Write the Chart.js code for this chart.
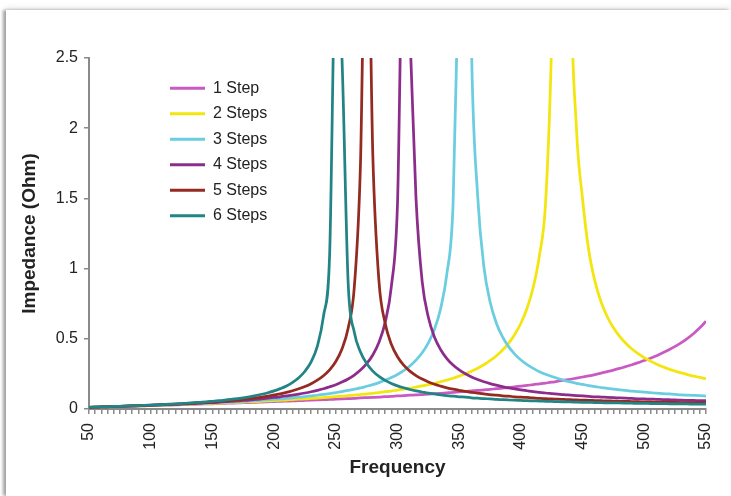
<!DOCTYPE html>
<html><head><meta charset="utf-8">
<script src="https://cdn.jsdelivr.net/npm/chart.js@4/dist/chart.umd.min.js"></script>
<style>
html,body{margin:0;padding:0;background:#fff;width:731px;height:496px;overflow:hidden}
#frame{position:absolute;left:6px;top:10px;width:725px;height:486px;background:#fff;
  box-shadow:-3px 0 3px rgba(0,0,0,0.35), 0 -3px 6px rgba(0,0,0,0.07);}
#c{position:absolute;left:0;top:0}
</style></head><body>
<div id="frame"></div>
<canvas id="c" width="731" height="496"></canvas>
<script>
const frequency = [
  50,55,60,65,70,75,80,85,90,95,
  100,105,110,115,120,125,130,135,140,145,
  150,155,160,165,170,175,180,185,190,195,
  200,205,210,215,220,225,230,235,240,245,
  250,255,260,265,270,275,280,285,290,295,
  300,305,310,315,320,325,330,335,340,345,
  350,355,360,365,370,375,380,385,390,395,
  400,405,410,415,420,425,430,435,440,445,
  450,455,460,465,470,475,480,485,490,495,
  500,505,510,515,520,525,530,535,540,545,
  550];

const step1 = [
  0.012,0.013,0.014,0.015,0.017,0.018,0.019,0.020,0.022,0.023,
  0.024,0.025,0.027,0.028,0.029,0.031,0.032,0.033,0.035,0.036,
  0.037,0.039,0.040,0.042,0.043,0.045,0.046,0.048,0.049,0.051,
  0.053,0.054,0.056,0.058,0.059,0.061,0.063,0.065,0.067,0.068,
  0.070,0.072,0.074,0.076,0.079,0.081,0.083,0.085,0.088,0.090,
  0.093,0.095,0.098,0.100,0.103,0.106,0.109,0.112,0.115,0.118,
  0.122,0.125,0.129,0.132,0.136,0.140,0.145,0.149,0.153,0.158,
  0.163,0.168,0.174,0.179,0.185,0.191,0.198,0.205,0.212,0.220,
  0.228,0.236,0.245,0.255,0.266,0.277,0.289,0.302,0.315,0.330,
  0.345,0.362,0.380,0.400,0.422,0.446,0.473,0.503,0.538,0.578,
  0.625];

const steps2 = [
  0.012,0.013,0.014,0.016,0.017,0.018,0.019,0.021,0.022,0.023,
  0.025,0.026,0.028,0.029,0.031,0.032,0.034,0.035,0.037,0.038,
  0.040,0.042,0.044,0.045,0.047,0.049,0.051,0.053,0.055,0.057,
  0.060,0.062,0.064,0.067,0.070,0.072,0.075,0.078,0.081,0.084,
  0.088,0.091,0.095,0.099,0.103,0.108,0.112,0.117,0.123,0.128,
  0.135,0.141,0.148,0.156,0.164,0.173,0.183,0.194,0.206,0.219,
  0.234,0.250,0.269,0.290,0.315,0.344,0.378,0.419,0.468,0.531,
  0.611,0.718,0.867,1.092,1.469,2.640,5.000,8.000,3.300,2.000,
  1.494,1.129,0.909,0.762,0.657,0.578,0.517,0.468,0.427,0.394,
  0.365,0.341,0.319,0.301,0.284,0.270,0.257,0.245,0.234,0.225,
  0.216];

const steps3 = [
  0.012,0.013,0.015,0.016,0.017,0.018,0.020,0.021,0.023,0.024,
  0.026,0.027,0.029,0.030,0.032,0.034,0.035,0.037,0.039,0.041,
  0.043,0.045,0.047,0.049,0.052,0.054,0.057,0.060,0.063,0.066,
  0.069,0.072,0.076,0.080,0.084,0.088,0.093,0.098,0.104,0.110,
  0.117,0.124,0.132,0.141,0.150,0.162,0.174,0.188,0.205,0.224,
  0.246,0.273,0.306,0.348,0.401,0.471,0.569,0.717,0.962,1.450,
  3.260,6.000,2.560,1.513,1.013,0.764,0.614,0.515,0.444,0.391,
  0.349,0.316,0.289,0.266,0.247,0.231,0.217,0.204,0.193,0.183,
  0.175,0.167,0.159,0.153,0.147,0.141,0.136,0.132,0.127,0.123,
  0.120,0.116,0.113,0.110,0.107,0.104,0.101,0.099,0.097,0.095,
  0.092];

const steps4 = [
  0.012,0.013,0.015,0.016,0.017,0.019,0.020,0.022,0.023,0.025,
  0.026,0.028,0.030,0.031,0.033,0.035,0.037,0.039,0.042,0.044,
  0.046,0.049,0.052,0.054,0.058,0.061,0.064,0.068,0.072,0.077,
  0.082,0.087,0.093,0.099,0.106,0.114,0.123,0.133,0.144,0.158,
  0.173,0.192,0.214,0.242,0.277,0.323,0.385,0.475,0.617,0.871,
  1.464,3.600,2.700,1.500,0.907,0.653,0.511,0.422,0.359,0.313,
  0.278,0.251,0.228,0.210,0.194,0.181,0.170,0.160,0.151,0.143,
  0.136,0.130,0.124,0.119,0.114,0.110,0.106,0.102,0.099,0.096,
  0.093,0.090,0.087,0.085,0.083,0.081,0.079,0.077,0.075,0.073,
  0.072,0.070,0.069,0.067,0.066,0.065,0.063,0.062,0.061,0.060,
  0.059];

const steps5 = [
  0.012,0.013,0.015,0.016,0.018,0.019,0.021,0.022,0.024,0.025,
  0.027,0.029,0.031,0.033,0.035,0.037,0.039,0.042,0.044,0.047,
  0.050,0.053,0.057,0.061,0.065,0.069,0.074,0.079,0.085,0.092,
  0.100,0.108,0.118,0.130,0.144,0.160,0.180,0.205,0.237,0.279,
  0.338,0.427,0.575,0.869,1.749,4.000,1.807,0.908,0.610,0.461,
  0.372,0.312,0.270,0.238,0.213,0.193,0.176,0.163,0.151,0.141,
  0.133,0.125,0.119,0.113,0.107,0.103,0.098,0.094,0.091,0.087,
  0.084,0.082,0.079,0.076,0.074,0.072,0.070,0.068,0.066,0.065,
  0.063,0.062,0.060,0.059,0.058,0.056,0.055,0.054,0.053,0.052,
  0.051,0.050,0.049,0.048,0.048,0.047,0.046,0.045,0.045,0.044,
  0.043];

const steps6 = [
  0.012,0.014,0.015,0.016,0.018,0.019,0.021,0.023,0.024,0.026,
  0.028,0.030,0.032,0.034,0.037,0.039,0.042,0.045,0.048,0.051,
  0.055,0.059,0.063,0.068,0.074,0.080,0.087,0.095,0.105,0.116,
  0.129,0.145,0.164,0.190,0.223,0.269,0.336,0.446,0.660,1.100,
  3.200,2.500,0.900,0.546,0.406,0.324,0.270,0.232,0.204,0.182,
  0.165,0.151,0.139,0.129,0.121,0.113,0.107,0.101,0.096,0.091,
  0.087,0.084,0.080,0.077,0.074,0.072,0.069,0.067,0.065,0.063,
  0.061,0.059,0.058,0.056,0.055,0.054,0.052,0.051,0.050,0.049,
  0.048,0.047,0.046,0.045,0.044,0.043,0.043,0.042,0.041,0.040,
  0.040,0.039,0.038,0.038,0.037,0.037,0.036,0.036,0.035,0.035,
  0.034];

const seriesNames = ['1 Step','2 Steps','3 Steps','4 Steps','5 Steps','6 Steps'];
const seriesValues = [step1, steps2, steps3, steps4, steps5, steps6];
const seriesColors = ['#c95ac1','#f2e60e','#6acde0','#8c2d8c','#942a20','#228484'];
const xTickLabels = [50,100,150,200,250,300,350,400,450,500,550];
const yTickLabels = [0,0.5,1,1.5,2,2.5];

const FONT = "'Liberation Sans', Arial, sans-serif";
const AXIS = '#8a8a8a';
const TEXT = '#222222';

const legendShift = {
  id: 'legendShift',
  afterLayout(chart) {
    const l = chart.legend;
    if (!l) return;
    const w = l.width || 150;
    l.left = 160.5; l.top = 70.8;
    l.right = l.left + w; l.bottom = l.top + 300;
  }
};

new Chart(document.getElementById('c'), {
  type: 'line',
  data: {
    datasets: seriesNames.map((name, i) => ({
      label: name,
      data: frequency.map((f, k) => ({x: f, y: seriesValues[i][k]})),
      borderColor: seriesColors[i],
      backgroundColor: seriesColors[i],
      borderWidth: 2.75,
      pointRadius: 0,
      cubicInterpolationMode: 'monotone',
      order: 6 - i
    }))
  },
  options: {
    responsive: false,
    animation: false,
    devicePixelRatio: 1,
    layout: {padding: {left: 0, top: 58, right: 25, bottom: 0}},
    plugins: {
      tooltip: {enabled: false},
      legend: {
        position: 'chartArea',
        align: 'start',
        labels: {
          font: {family: FONT, size: 16},
          color: TEXT,
          boxWidth: 35,
          boxHeight: 3,
          padding: 9.5,
          sort: (a, b) => a.datasetIndex - b.datasetIndex,
          generateLabels(chart) {
            const items = Chart.defaults.plugins.legend.labels.generateLabels(chart);
            items.forEach(it => { it.lineWidth = 0; it.fillStyle = seriesColors[it.datasetIndex]; });
            return items;
          }
        }
      }
    },
    scales: {
      x: {
        type: 'linear',
        min: 50, max: 550,
        afterFit(s) { s.height = 87; s.paddingRight = 0; s.paddingLeft = 0; },
        border: {display: true, color: AXIS, width: 2},
        grid: {display: true, drawOnChartArea: false, drawTicks: true, tickLength: 5, color: AXIS, lineWidth: 1.5},
        ticks: {
          stepSize: 5, maxTicksLimit: 500, autoSkip: false, precision: 0,
          minRotation: 90, maxRotation: 90, padding: 9,
          color: TEXT, font: {family: FONT, size: 16},
          callback: (v) => xTickLabels.includes(v) ? String(v) : ''
        },
        title: {display: true, text: 'Frequency', color: TEXT,
          font: {family: FONT, size: 19, weight: 'bold'}, padding: {top: 0, bottom: 17}}
      },
      y: {
        min: 0, max: 2.5,
        afterFit(s) { s.width = 89; },
        border: {display: true, color: AXIS, width: 2},
        grid: {display: true, drawOnChartArea: false, drawTicks: true, tickLength: 5, color: AXIS, lineWidth: 1.5},
        ticks: {
          stepSize: 0.5, padding: 6, color: TEXT, font: {family: FONT, size: 16},
          callback: (v) => yTickLabels.includes(v) ? String(v) : ''
        },
        title: {display: true, text: 'Impedance (Ohm)', color: TEXT,
          font: {family: FONT, size: 19, weight: 'bold'}, padding: {top: 18.6, bottom: 0}}
      }
    }
  },
  plugins: [legendShift]
});
</script>
</body></html>
